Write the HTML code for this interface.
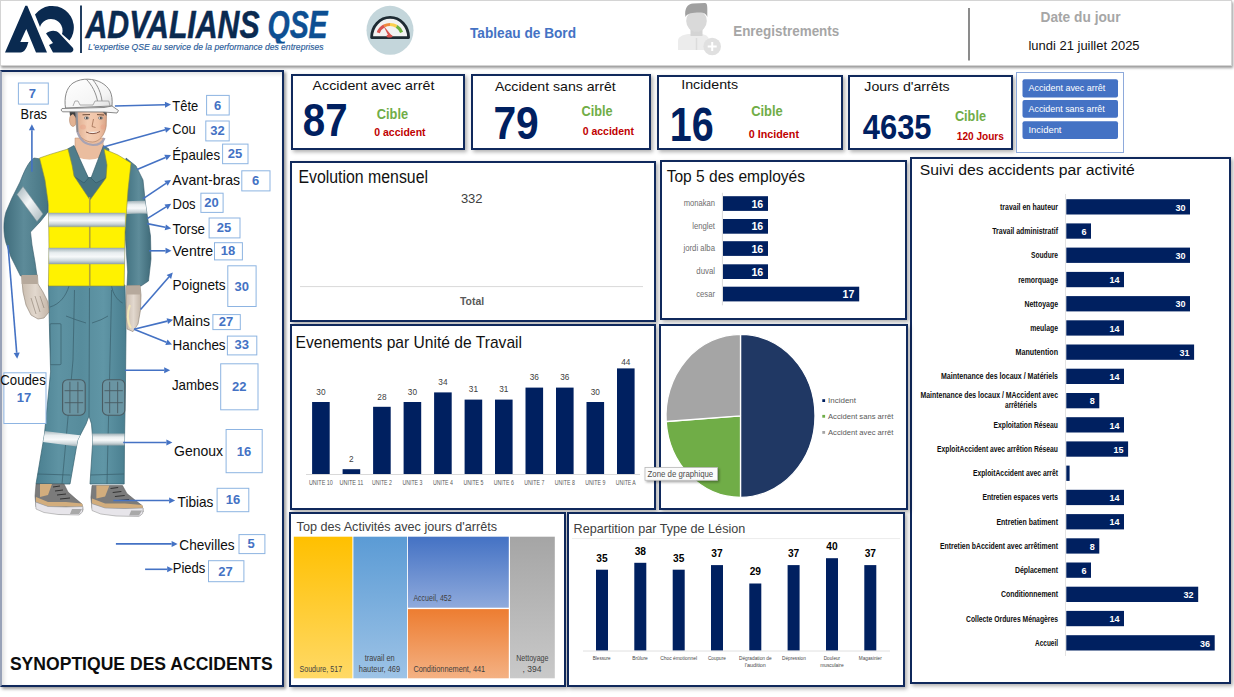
<!DOCTYPE html>
<html lang="fr"><head><meta charset="utf-8"><title>Tableau de Bord - Synoptique des accidents</title>
<style>
html,body{margin:0;padding:0;background:#fff;}
body{width:1234px;height:697px;overflow:hidden;position:relative;font-family:"Liberation Sans", sans-serif;}
#header,.panel{position:absolute;background:#fff;box-sizing:content-box;}
svg.pg{position:absolute;overflow:visible;font-family:"Liberation Sans", sans-serif;}
</style></head><body>
<svg width="0" height="0" style="position:absolute"><defs>
<linearGradient id="gY" x1="0" y1="0" x2="0" y2="1"><stop offset="0" stop-color="#ffc000"/><stop offset="1" stop-color="#ffd966"/></linearGradient>
<linearGradient id="gB" x1="0" y1="0" x2="0" y2="1"><stop offset="0" stop-color="#5b9bd5"/><stop offset="1" stop-color="#9dc3e6"/></linearGradient>
<linearGradient id="gA" x1="0" y1="0" x2="0" y2="1"><stop offset="0" stop-color="#4472c4"/><stop offset="1" stop-color="#8faadc"/></linearGradient>
<linearGradient id="gO" x1="0" y1="0" x2="0" y2="1"><stop offset="0" stop-color="#ed7d31"/><stop offset="1" stop-color="#f4b183"/></linearGradient>
<linearGradient id="gG" x1="0" y1="0" x2="0" y2="1"><stop offset="0" stop-color="#a5a5a5"/><stop offset="1" stop-color="#c9c9c9"/></linearGradient>
<filter id="tts" x="-20%" y="-50%" width="150%" height="250%"><feDropShadow dx="1.5" dy="1.5" stdDeviation="1" flood-color="#000" flood-opacity=".35"/></filter>

<linearGradient id="gStripe" x1="0" y1="0" x2="0" y2="1"><stop offset="0" stop-color="#9fb0b6"/><stop offset=".3" stop-color="#e9eef0"/><stop offset=".55" stop-color="#f7f9fa"/><stop offset=".8" stop-color="#ccd6da"/><stop offset="1" stop-color="#93a4aa"/></linearGradient>
<linearGradient id="gStripeD" x1="0" y1="0" x2="1" y2="1"><stop offset="0" stop-color="#a4b4ba"/><stop offset=".45" stop-color="#f4f7f8"/><stop offset="1" stop-color="#a7b6bb"/></linearGradient>
<linearGradient id="gSleeveL" x1="0" y1="0" x2="1" y2="0"><stop offset="0" stop-color="#3f6c7b"/><stop offset=".45" stop-color="#5d8b99"/><stop offset="1" stop-color="#467482"/></linearGradient>
<linearGradient id="gSleeveR" x1="0" y1="0" x2="1" y2="0"><stop offset="0" stop-color="#40707f"/><stop offset=".55" stop-color="#5e8c9a"/><stop offset="1" stop-color="#3f6b79"/></linearGradient>
<linearGradient id="gPants" x1="0" y1="0" x2="1" y2="0"><stop offset="0" stop-color="#4a7f90"/><stop offset=".25" stop-color="#5e93a3"/><stop offset=".5" stop-color="#578c9c"/><stop offset=".75" stop-color="#6096a6"/><stop offset="1" stop-color="#497e8f"/></linearGradient>
<linearGradient id="gHelmet" x1="0" y1="0" x2="1" y2="1"><stop offset="0" stop-color="#ffffff"/><stop offset=".7" stop-color="#f4f4f4"/><stop offset="1" stop-color="#dcdcdc"/></linearGradient>
<linearGradient id="gSkin" x1="0" y1="0" x2="1" y2="0"><stop offset="0" stop-color="#dba88a"/><stop offset=".4" stop-color="#f4cdb3"/><stop offset=".75" stop-color="#f0c3a6"/><stop offset="1" stop-color="#d9a386"/></linearGradient>
<linearGradient id="gGlove" x1="0" y1="0" x2="1" y2="0"><stop offset="0" stop-color="#c9bcae"/><stop offset=".5" stop-color="#e2d8ce"/><stop offset="1" stop-color="#c4b6a8"/></linearGradient>
<clipPath id="cArmL"><path d="M34,158 C28,162 24,172 20,182 L12,198 L6,212 C3,222 3.5,234 6,243 L11,257 L20.5,276 L37,276 L35,262 L32,245 L30.5,232 L40,222 L48,212 L48,160 Z"/></clipPath>
<clipPath id="cArmR"><path d="M126,158 L136,166 L143,180 L145.5,204 L150.5,236 L151,259 L148.5,281 L141,286 L127,286 L127.7,272 L125,232 L124,190 Z"/></clipPath>
<clipPath id="cPants"><path d="M48.5,285 L125,285 L126,330 L125.5,380 L124.5,440 L124.2,484 L90,484 L92.8,440 L91.5,424 L89,416 L86,424 L77.7,440 L70,484 L36,484 L44.4,434.5 L50.6,372 L49.5,330 Z"/></clipPath>

</defs></svg>
<div id="header" style="left:0;top:0;width:1230px;height:64px;border:1px solid #d4d4d4;box-shadow:0.5px 1.5px 2.5px rgba(0,0,0,.4);"><svg class="pg" style="left:-1px;top:-1px" width="1234" height="697" viewBox="0 0 1234 697"><path d="M5,52.5 L25.3,5.7 L27.3,5.7 L47,52.5 L36,52.5 L26.3,29 L20.3,42.1 L28.4,42.1 C27,47 25,52.5 20.3,52.5 Z" fill="#0a2a50"/><path d="M35,14.5 A20,20 0 1 1 69.5,40.5 L62,34 A10,10 0 1 0 40,27 Z" fill="#0a2a50"/><path d="M46,33.5 C50,30 56,30 59,33 L73,48 C74,50 73,52 71,52.5 L53,52.5 L49,45 L53,43 Z" fill="#0a2a50"/><line x1="81.0" y1="5.5" x2="81.0" y2="53.0" stroke="#0a2a50" stroke-width="1.8" /><text x="85.5" y="37.9" font-size="38" fill="#0a2a50" font-weight="bold" font-style="italic" textLength="174.1" lengthAdjust="spacingAndGlyphs" stroke="#0a2a50" stroke-width=".5">ADVALIANS</text><clipPath id="cQse"><rect x="260" y="0" width="80" height="43.5"/></clipPath><g clip-path="url(#cQse)"><text x="267.5" y="37.9" font-size="38" fill="#0d4f92" font-weight="bold" font-style="italic" textLength="60.1" lengthAdjust="spacingAndGlyphs" stroke="#0d4f92" stroke-width=".5">QSE</text></g><text x="88.0" y="50.4" font-size="8.9" fill="#285a98" font-style="italic" textLength="235.5" lengthAdjust="spacingAndGlyphs" stroke="#285a98" stroke-width=".15">L'expertise QSE au service de la performance des entreprises</text><ellipse cx="390" cy="30.3" rx="23.5" ry="24.5" fill="#c4d6db"/><path d="M371.6,37.6 A18.5,20.2 0 0 1 408.6,37.6 Z" fill="#f2f2f2" stroke="#1e2b33" stroke-width="2.8" stroke-linejoin="round"/><path d="M378.25,32.72 A12.5,12.5 0 0 1 384.13,25.96" fill="none" stroke="#d9534f" stroke-width="3.2"/><path d="M384.13,25.96 A12.5,12.5 0 0 1 390.00,24.50" fill="none" stroke="#ef8a3c" stroke-width="3.2"/><path d="M390.00,24.50 A12.5,12.5 0 0 1 396.62,26.40" fill="none" stroke="#fbcf4d" stroke-width="3.2"/><path d="M396.62,26.40 A12.5,12.5 0 0 1 401.59,32.32" fill="none" stroke="#6db33f" stroke-width="3.2"/><path d="M383,25 L391.5,35.5 L389,37 Z" fill="#d9534f"/><ellipse cx="389.5" cy="36" rx="3" ry="1.6" fill="#d9534f"/><text x="470.0" y="38.0" font-size="15.2" fill="#4472c4" font-weight="bold" textLength="106.0" lengthAdjust="spacingAndGlyphs" >Tableau de Bord</text><path d="M678,50 L678,41 C678,37 682,35 688,34 L702,34 C707,35 709,37 709,41 L709,50 Z" fill="#ececec"/><rect x="690.5" y="29" width="12" height="7" fill="#d4d4d4"/><ellipse cx="696.5" cy="21" rx="10.3" ry="10.8" fill="#d9d9d9"/><path d="M685.5,17 C684,8 688,4 693,3.5 L705,3 C707.5,3 707.5,6 707.3,17 C706,13 703,12 697,12.5 C690,13 687,14 685.5,17 Z" fill="#a0a0a0"/><line x1="696.5" y1="38" x2="696.5" y2="50" stroke="#dcdcdc" stroke-width="1.5"/><circle cx="712.2" cy="46.5" r="8.8" fill="#e0e0e0"/><path d="M712.2,42 V51 M707.7,46.5 H716.7" stroke="#fff" stroke-width="2"/><text x="733.2" y="35.5" font-size="14.7" fill="#a6a6a6" font-weight="bold" textLength="106.1" lengthAdjust="spacingAndGlyphs" >Enregistrements</text><line x1="969.0" y1="8.0" x2="969.0" y2="60.5" stroke="#7f7f7f" stroke-width="1.8" /><text x="1040.5" y="22.1" font-size="14.7" fill="#a6a6a6" font-weight="bold" textLength="80.1" lengthAdjust="spacingAndGlyphs" >Date du jour</text><text x="1028.4" y="50.0" font-size="12.5" fill="#111" textLength="111.2" lengthAdjust="spacingAndGlyphs" >lundi 21 juillet 2025</text></svg></div>
<div class="panel" id="synoptique" style="left:0px;top:70px;width:280px;height:613px;border:2px solid #10295c;box-shadow:2px 2px 3px rgba(0,0,0,.4), inset 2px 2px 4px rgba(0,0,0,.13);border-left-color:#98a2b8;"><svg class="pg" style="left:-2px;top:-72px" width="1234" height="697" viewBox="0 0 1234 697"><path d="M126,158 L136,166 L143,180 L145.5,204 L150.5,236 L151,259 L148.5,281 L141,286 L127,286 L127.7,272 L125,232 L124,190 Z" fill="url(#gSleeveR)" stroke="#34596a" stroke-width=".6"/><g clip-path="url(#cArmR)"><path d="M120,202 Q135,200 155,201 L155,214 Q135,213 120,214.5 Z" fill="url(#gStripe)"/></g><path d="M34,158 C28,162 24,172 20,182 L12,198 L6,212 C3,222 3.5,234 6,243 L11,257 L20.5,276 L37,276 L35,262 L32,245 L30.5,232 L40,222 L48,212 L48,160 Z" fill="url(#gSleeveL)" stroke="#34596a" stroke-width=".6"/><g clip-path="url(#cArmL)"><path d="M17,194.5 L23,186.5 L43,214 L37,221.5 Z" fill="url(#gStripeD)" stroke="#7d9096" stroke-width=".5"/></g><path d="M48.5,285 L125,285 L126,330 L125.5,380 L124.5,440 L124.2,484 L90,484 L92.8,440 L91.5,424 L89,416 L86,424 L77.7,440 L70,484 L36,484 L44.4,434.5 L50.6,372 L49.5,330 Z" fill="url(#gPants)" stroke="#33606f" stroke-width=".7"/><g clip-path="url(#cPants)" fill="none" stroke="#3a5f6b" stroke-width=".7"><path d="M74.5,290 L73,360 L66,440 L62,484"/><path d="M89.5,288 L89,416"/><path d="M111.6,290 L110,360 L108,440 L107,484"/><path d="M69,286 C66,296 60,304 50,307"/><path d="M111.6,286 C113,294 117,300 122.6,303"/><rect x="50" y="323.7" width="11" height="41" rx="1"/><path d="M66,316 Q76,320 86,323 M92,323 Q102,320 108,316"/><path d="M37,474 L70.5,475 M90,475 L124,474"/></g><rect x="62.6" y="379.7" width="22.6" height="35.5" rx="5" fill="#6a95a3" stroke="#4a5b62" stroke-width="1.1"/><path d="M64.6,390.7 H83.2 M64.6,402.7 H83.2 M69.9,381.7 V413.2 M77.9,381.7 V413.2" stroke="#4a5b62" stroke-width=".9"/><rect x="102.5" y="379.7" width="22.3" height="35.5" rx="5" fill="#6a95a3" stroke="#4a5b62" stroke-width="1.1"/><path d="M104.5,390.7 H122.8 M104.5,402.7 H122.8 M109.65,381.7 V413.2 M117.65,381.7 V413.2" stroke="#4a5b62" stroke-width=".9"/><g clip-path="url(#cPants)"><path d="M40,430.5 L82,435.5 L81,447 L39,441.5 Z" fill="url(#gStripe)"/><path d="M88,433.5 L127,433.5 L127,445.5 L88,445.5 Z" fill="url(#gStripe)"/></g><path d="M36.0,484.0 L64.0,484.0 L68.0,492.0 L76.0,499.0 L82.0,504.0 L83.0,510.0 L80.0,514.0 L60.0,514.0 L44.0,511.0 L36.0,507.0 L35.0,496.0 Z" fill="#7b7b7b" stroke="#555" stroke-width=".5"/><path d="M40.0,484.0 L52.0,484.0 L48.0,495.0 L40.0,497.0 Z" fill="#d2ad7d"/><path d="M36.0,497.0 L48.0,502.0 L66.0,502.0 L82.0,503.5 L83.0,507.0 L66.0,506.5 L48.0,506.5 L36.0,502.0 Z" fill="#d2ad7d"/><path d="M53.0,487.0 L60.0,486.0 M55.0,491.0 L63.0,490.0 M57.0,495.0 L66.0,494.0 M60.0,499.0 L70.0,498.0" stroke="#333" stroke-width="1"/><path d="M35.5,502.0 L48.0,506.5 L66.0,507.0 L83.0,506.5 L82.5,512.0 L79.0,515.0 L58.0,514.5 L44.0,512.5 L36.0,509.0 Z" fill="#e7e5ea" stroke="#9a9a9a" stroke-width=".6"/><path d="M72.0,509.0 L82.0,509.0 L79.0,514.0 L70.0,514.0 Z" fill="#a9a9a9"/><path d="M92.0,485.5 L122.5,485.5 L126.9,493.5 L135.6,500.5 L142.1,505.5 L143.2,511.5 L140.0,515.5 L118.2,515.5 L100.7,512.5 L92.0,508.5 L90.9,497.5 Z" fill="#7b7b7b" stroke="#555" stroke-width=".5"/><path d="M96.4,485.5 L109.4,485.5 L105.1,496.5 L96.4,498.5 Z" fill="#d2ad7d"/><path d="M92.0,498.5 L105.1,503.5 L124.7,503.5 L142.1,505.0 L143.2,508.5 L124.7,508.0 L105.1,508.0 L92.0,503.5 Z" fill="#d2ad7d"/><path d="M110.5,488.5 L118.2,487.5 M112.7,492.5 L121.4,491.5 M114.9,496.5 L124.7,495.5 M118.2,500.5 L129.1,499.5" stroke="#333" stroke-width="1"/><path d="M91.5,503.5 L105.1,508.0 L124.7,508.5 L143.2,508.0 L142.7,513.5 L138.9,516.5 L116.0,516.0 L100.7,514.0 L92.0,510.5 Z" fill="#e7e5ea" stroke="#9a9a9a" stroke-width=".6"/><path d="M131.2,510.5 L142.1,510.5 L138.9,515.5 L129.1,515.5 Z" fill="#a9a9a9"/><path d="M70,156 L108,156 L107,178 L90,202 L73,176 Z" fill="#46727f"/><path d="M75,138 L103,138 L103.5,160 L75,160 Z" fill="#eabd9f" stroke="#b88a6e" stroke-width=".5"/><path d="M77,157 Q90,162 101,157 L92,177 L88,177 Z" fill="#ffffff"/><path d="M67.5,149 L74,145.5 L79,157 L88.5,178 L84,183 L73.5,176 Z" fill="#4f7d8b" stroke="#2f5563" stroke-width=".6"/><path d="M109,149 L103.5,145.5 L99,157 L91,178 L96,183 L106,178 Z" fill="#4f7d8b" stroke="#2f5563" stroke-width=".6"/><path d="M39.5,158 L50,154.4 L68,149 L72,165 L74,176 L90,200 L90,286 L48.4,286 L49,250 L48.5,205 L45,180 Z" fill="#fff200" stroke="#8d8d3c" stroke-width=".6"/><path d="M104,149 L118,155 L131,163 L128,190 L125,232 L124.2,286 L90,286 L90,200 L106,178 L107,165 Z" fill="#fff200" stroke="#8d8d3c" stroke-width=".6"/><line x1="89.6" y1="197" x2="89.6" y2="286" stroke="#b5a53a" stroke-width="1.3"/><path d="M48.5,213 L125.3,213 L125.2,226.8 L48.6,226.8 Z" fill="url(#gStripe)" stroke="#8e9da2" stroke-width=".4"/><path d="M48.8,248 L124.7,248 L124.5,264 L48.9,264 Z" fill="url(#gStripe)" stroke="#8e9da2" stroke-width=".4"/><path d="M21.6,276 L37.4,275 L38,284 L43,292 L48,302 L49,312 L44,318 L38,319 L31,315 L26,305 L23,292 Z" fill="url(#gGlove)" stroke="#8a7d71" stroke-width=".6"/><rect x="21.6" y="275" width="16" height="9" fill="#b6a99c"/><path d="M31,298 L36,314 M35,296 L40,312 M40,296 L44,308" stroke="#8a7d71" stroke-width=".6"/><path d="M126.4,286 L140,285.5 L141,295 L140.5,310 L138,324 L133,331.6 L127,329 L126,312 Z" fill="url(#gGlove)" stroke="#8a7d71" stroke-width=".6"/><rect x="126.4" y="285.5" width="13.8" height="9" fill="#b6a99c"/><path d="M130,305 C127,312 127,322 131,328" fill="none" stroke="#f3e6b8" stroke-width="2"/><ellipse cx="73" cy="120" rx="3.5" ry="6.5" fill="#e2b293" stroke="#a97a5c" stroke-width=".5"/><path d="M75,111 L106.6,111 L106.2,126 C105,135 99,142 92.6,142 C85,142 78.5,137 76.5,128 Z" fill="url(#gSkin)" stroke="#a97a5c" stroke-width=".6"/><path d="M69.5,111 L76.5,111 L76,118 L73,114 L70,116 Z" fill="#3f3f3f"/><path d="M102,111 L106.6,111 L106.4,116 Z" fill="#555"/><path d="M82.5,114.8 L90,114.6 M97,114.6 L104,115" stroke="#6b4a36" stroke-width="1"/><ellipse cx="86.6" cy="118" rx="2.4" ry="1.3" fill="#e8e8e8" stroke="#555" stroke-width=".5"/><circle cx="86.9" cy="118" r="1" fill="#333"/><ellipse cx="100.6" cy="118" rx="2.3" ry="1.3" fill="#e8e8e8" stroke="#555" stroke-width=".5"/><circle cx="100.9" cy="118" r="1" fill="#333"/><path d="M93.5,119 L92,126.5 L95.5,127.5" fill="none" stroke="#a06d52" stroke-width=".8"/><path d="M86,132 Q93,135.5 100,131.5" fill="#f7f0ec" stroke="#7a4634" stroke-width=".9"/><ellipse cx="83" cy="127" rx="3" ry="2.5" fill="#e89f86" opacity=".45"/><ellipse cx="103" cy="127" rx="2.5" ry="2.5" fill="#e89f86" opacity=".45"/><path d="M76.5,111 L77.5,132 C80,140 86,144.5 93,145 C99,145 103,142 104.5,138" fill="none" stroke="#a8a3b3" stroke-width="2.2"/><path d="M76.5,111 L77.5,132" stroke="#8b8b8b" stroke-width="1.4"/><path d="M65.5,108 C64,98 66,88 73,83 C78,80 83,79 88,79.2 C98,79.5 106,84 110,91 C112,95 112.5,100 112,106 Z" fill="url(#gHelmet)" stroke="#7d7d7d" stroke-width=".9"/><path d="M86.5,79.5 C92,85 96,93 97.5,101 M93,80 C98,86 101,93 102,101" fill="none" stroke="#8f8f8f" stroke-width="1"/><path d="M73,106 L75,101 L78,101 L80,105 L93,105 L95,101 L108.8,101 L110,106" fill="none" stroke="#9a9a9a" stroke-width=".8"/><path d="M62,108.5 L104,107.5 L112,106 L118.5,110.5 L117,113 L104,112 L62.5,111.8 L61,110 Z" fill="#f6f6f6" stroke="#7d7d7d" stroke-width=".9"/><line x1="31.9" y1="171.8" x2="31.9" y2="130.3" stroke="#4472c4" stroke-width="1.6" /><path d="M31.9,124.3 L34.9,130.3 L28.9,130.3 Z" fill="#4472c4"/><line x1="8.0" y1="245.0" x2="16.7" y2="352.7" stroke="#4472c4" stroke-width="1.6" /><path d="M17.2,358.7 L13.7,353.0 L19.7,352.5 Z" fill="#4472c4"/><line x1="114.9" y1="106.0" x2="165.0" y2="104.7" stroke="#4472c4" stroke-width="1.6" /><path d="M171.0,104.5 L165.1,107.7 L164.9,101.7 Z" fill="#4472c4"/><line x1="103.3" y1="146.9" x2="165.2" y2="129.8" stroke="#4472c4" stroke-width="1.6" /><path d="M171.0,128.2 L166.0,132.7 L164.4,126.9 Z" fill="#4472c4"/><line x1="137.1" y1="169.5" x2="165.5" y2="157.4" stroke="#4472c4" stroke-width="1.6" /><path d="M171.0,155.1 L166.7,160.2 L164.3,154.7 Z" fill="#4472c4"/><line x1="142.9" y1="198.9" x2="166.0" y2="183.3" stroke="#4472c4" stroke-width="1.6" /><path d="M171.0,179.9 L167.7,185.7 L164.3,180.8 Z" fill="#4472c4"/><line x1="147.2" y1="218.6" x2="166.1" y2="206.9" stroke="#4472c4" stroke-width="1.6" /><path d="M171.2,203.8 L167.7,209.5 L164.5,204.4 Z" fill="#4472c4"/><line x1="147.2" y1="223.6" x2="165.3" y2="227.3" stroke="#4472c4" stroke-width="1.6" /><path d="M171.2,228.5 L164.7,230.2 L165.9,224.4 Z" fill="#4472c4"/><line x1="149.0" y1="250.8" x2="165.5" y2="250.8" stroke="#4472c4" stroke-width="1.6" /><path d="M171.5,250.8 L165.5,253.8 L165.5,247.8 Z" fill="#4472c4"/><line x1="140.6" y1="309.5" x2="168.9" y2="276.9" stroke="#4472c4" stroke-width="1.6" /><path d="M172.8,272.4 L171.1,278.9 L166.6,275.0 Z" fill="#4472c4"/><line x1="134.0" y1="329.3" x2="167.3" y2="321.1" stroke="#4472c4" stroke-width="1.6" /><path d="M173.1,319.7 L168.0,324.0 L166.6,318.2 Z" fill="#4472c4"/><line x1="134.0" y1="329.3" x2="166.4" y2="342.3" stroke="#4472c4" stroke-width="1.6" /><path d="M172.0,344.5 L165.3,345.1 L167.5,339.5 Z" fill="#4472c4"/><line x1="124.9" y1="370.2" x2="164.2" y2="370.2" stroke="#4472c4" stroke-width="1.6" /><path d="M170.2,370.2 L164.2,373.2 L164.2,367.2 Z" fill="#4472c4"/><line x1="123.2" y1="442.5" x2="166.4" y2="442.5" stroke="#4472c4" stroke-width="1.6" /><path d="M172.4,442.5 L166.4,445.5 L166.4,439.5 Z" fill="#4472c4"/><line x1="113.4" y1="500.5" x2="169.1" y2="500.5" stroke="#4472c4" stroke-width="1.6" /><path d="M175.1,500.5 L169.1,503.5 L169.1,497.5 Z" fill="#4472c4"/><line x1="115.9" y1="543.9" x2="171.6" y2="543.9" stroke="#4472c4" stroke-width="1.6" /><path d="M177.6,543.9 L171.6,546.9 L171.6,540.9 Z" fill="#4472c4"/><line x1="145.1" y1="569.3" x2="167.2" y2="569.3" stroke="#4472c4" stroke-width="1.6" /><path d="M173.2,569.3 L167.2,572.3 L167.2,566.3 Z" fill="#4472c4"/><rect x="18.4" y="83.0" width="29.9" height="21.1" fill="#fff" stroke="#8db4e2" stroke-width="1"/><text x="32.3" y="98.3" font-size="13" fill="#4472c4" font-weight="bold" text-anchor="middle" >7</text><rect x="206.6" y="95.4" width="22.6" height="19.6" fill="#fff" stroke="#8db4e2" stroke-width="1"/><text x="217.5" y="109.8" font-size="13" fill="#4472c4" font-weight="bold" text-anchor="middle" >6</text><rect x="205.8" y="121.0" width="23.4" height="19.9" fill="#fff" stroke="#8db4e2" stroke-width="1"/><text x="217.5" y="135.3" font-size="13" fill="#4472c4" font-weight="bold" text-anchor="middle" >32</text><rect x="222.6" y="144.1" width="25.4" height="19.6" fill="#fff" stroke="#8db4e2" stroke-width="1"/><text x="235.0" y="158.4" font-size="13" fill="#4472c4" font-weight="bold" text-anchor="middle" >25</text><rect x="241.8" y="170.8" width="28.2" height="20.1" fill="#fff" stroke="#8db4e2" stroke-width="1"/><text x="255.6" y="184.5" font-size="13" fill="#4472c4" font-weight="bold" text-anchor="middle" >6</text><rect x="200.9" y="193.2" width="22.2" height="19.2" fill="#fff" stroke="#8db4e2" stroke-width="1"/><text x="211.6" y="207.1" font-size="13" fill="#4472c4" font-weight="bold" text-anchor="middle" >20</text><rect x="209.1" y="218.0" width="30.9" height="19.9" fill="#fff" stroke="#8db4e2" stroke-width="1"/><text x="224.0" y="232.3" font-size="13" fill="#4472c4" font-weight="bold" text-anchor="middle" >25</text><rect x="214.5" y="242.7" width="27.9" height="17.2" fill="#fff" stroke="#8db4e2" stroke-width="1"/><text x="228.1" y="255.4" font-size="13" fill="#4472c4" font-weight="bold" text-anchor="middle" >18</text><rect x="227.8" y="265.8" width="28.3" height="40.7" fill="#fff" stroke="#8db4e2" stroke-width="1"/><text x="241.8" y="290.5" font-size="13" fill="#4472c4" font-weight="bold" text-anchor="middle" >30</text><rect x="212.9" y="314.6" width="27.4" height="15.0" fill="#fff" stroke="#8db4e2" stroke-width="1"/><text x="225.9" y="326.0" font-size="13" fill="#4472c4" font-weight="bold" text-anchor="middle" >27</text><rect x="227.4" y="336.1" width="29.4" height="18.8" fill="#fff" stroke="#8db4e2" stroke-width="1"/><text x="241.8" y="349.4" font-size="13" fill="#4472c4" font-weight="bold" text-anchor="middle" >33</text><rect x="220.7" y="363.8" width="37.3" height="46.0" fill="#fff" stroke="#8db4e2" stroke-width="1"/><text x="239.2" y="391.3" font-size="13" fill="#4472c4" font-weight="bold" text-anchor="middle" >22</text><rect x="226.1" y="429.5" width="36.1" height="43.2" fill="#fff" stroke="#8db4e2" stroke-width="1"/><text x="244.0" y="455.7" font-size="13" fill="#4472c4" font-weight="bold" text-anchor="middle" >16</text><rect x="217.1" y="488.3" width="31.7" height="23.4" fill="#fff" stroke="#8db4e2" stroke-width="1"/><text x="232.9" y="504.1" font-size="13" fill="#4472c4" font-weight="bold" text-anchor="middle" >16</text><rect x="239.0" y="534.6" width="25.9" height="19.0" fill="#fff" stroke="#8db4e2" stroke-width="1"/><text x="251.2" y="548.0" font-size="13" fill="#4472c4" font-weight="bold" text-anchor="middle" >5</text><rect x="208.5" y="560.7" width="35.4" height="21.0" fill="#fff" stroke="#8db4e2" stroke-width="1"/><text x="225.6" y="575.6" font-size="13" fill="#4472c4" font-weight="bold" text-anchor="middle" >27</text><rect x="3.9" y="372.8" width="42.1" height="50.7" fill="#fff" stroke="#8db4e2" stroke-width="1"/><text x="24.0" y="402.0" font-size="13" fill="#4472c4" font-weight="bold" text-anchor="middle" >17</text><text x="20.6" y="119.0" font-size="14.4" fill="#0d0d0d" textLength="26.4" lengthAdjust="spacingAndGlyphs" >Bras</text><text x="172.3" y="110.6" font-size="14.4" fill="#0d0d0d" textLength="25.9" lengthAdjust="spacingAndGlyphs" >Tête</text><text x="172.3" y="134.0" font-size="14.4" fill="#0d0d0d" textLength="23.4" lengthAdjust="spacingAndGlyphs" >Cou</text><text x="172.3" y="160.1" font-size="14.4" fill="#0d0d0d" textLength="47.8" lengthAdjust="spacingAndGlyphs" >Épaules</text><text x="172.3" y="184.8" font-size="14.4" fill="#0d0d0d" textLength="67.7" lengthAdjust="spacingAndGlyphs" >Avant-bras</text><text x="172.5" y="208.7" font-size="14.4" fill="#0d0d0d" textLength="23.1" lengthAdjust="spacingAndGlyphs" >Dos</text><text x="172.5" y="233.5" font-size="14.4" fill="#0d0d0d" textLength="32.5" lengthAdjust="spacingAndGlyphs" >Torse</text><text x="172.5" y="256.1" font-size="14.4" fill="#0d0d0d" textLength="40.7" lengthAdjust="spacingAndGlyphs" >Ventre</text><text x="172.5" y="290.0" font-size="14.4" fill="#0d0d0d" textLength="53.1" lengthAdjust="spacingAndGlyphs" >Poignets</text><text x="172.5" y="325.7" font-size="14.4" fill="#0d0d0d" textLength="37.5" lengthAdjust="spacingAndGlyphs" >Mains</text><text x="172.5" y="350.0" font-size="14.4" fill="#0d0d0d" textLength="53.1" lengthAdjust="spacingAndGlyphs" >Hanches</text><text x="171.9" y="390.0" font-size="14.4" fill="#0d0d0d" textLength="46.7" lengthAdjust="spacingAndGlyphs" >Jambes</text><text x="174.0" y="455.7" font-size="14.4" fill="#0d0d0d" textLength="49.0" lengthAdjust="spacingAndGlyphs" >Genoux</text><text x="177.6" y="506.6" font-size="14.4" fill="#0d0d0d" textLength="35.8" lengthAdjust="spacingAndGlyphs" >Tibias</text><text x="179.3" y="549.8" font-size="14.4" fill="#0d0d0d" textLength="55.3" lengthAdjust="spacingAndGlyphs" >Chevilles</text><text x="172.7" y="573.2" font-size="14.4" fill="#0d0d0d" textLength="32.7" lengthAdjust="spacingAndGlyphs" >Pieds</text><text x="0.3" y="385.0" font-size="14.4" fill="#0d0d0d" textLength="45.5" lengthAdjust="spacingAndGlyphs" >Coudes</text><text x="9.9" y="669.6" font-size="18.5" fill="#0d0d0d" font-weight="bold" textLength="262.9" lengthAdjust="spacingAndGlyphs" >SYNOPTIQUE DES ACCIDENTS</text></svg></div>
<div class="panel" id="kpi1" style="left:291px;top:74px;width:170px;height:72px;border:2px solid #10295c;box-shadow:2px 2px 4px rgba(0,0,0,.32);"><svg class="pg" style="left:-293px;top:-76px" width="1234" height="697" viewBox="0 0 1234 697"><text x="312.6" y="90.2" font-size="13.3" fill="#111" textLength="121.8" lengthAdjust="spacingAndGlyphs" >Accident avec arrêt</text><text x="302.8" y="136.2" font-size="47" fill="#002060" font-weight="bold" textLength="44.8" lengthAdjust="spacingAndGlyphs" >87</text><text x="376.8" y="118.7" font-size="14.2" fill="#70ad47" font-weight="bold" textLength="31.3" lengthAdjust="spacingAndGlyphs" >Cible</text><text x="374.3" y="136.2" font-size="10.2" fill="#c00000" font-weight="bold" textLength="51.3" lengthAdjust="spacingAndGlyphs" >0 accident</text></svg></div><div class="panel" id="kpi2" style="left:471px;top:74px;width:176px;height:72px;border:2px solid #10295c;box-shadow:2px 2px 4px rgba(0,0,0,.32);"><svg class="pg" style="left:-473px;top:-76px" width="1234" height="697" viewBox="0 0 1234 697"><text x="494.9" y="90.5" font-size="13.3" fill="#111" textLength="120.9" lengthAdjust="spacingAndGlyphs" >Accident sans arrêt</text><text x="493.4" y="139.0" font-size="47" fill="#002060" font-weight="bold" textLength="45.4" lengthAdjust="spacingAndGlyphs" >79</text><text x="581.6" y="115.6" font-size="14.2" fill="#70ad47" font-weight="bold" textLength="31.1" lengthAdjust="spacingAndGlyphs" >Cible</text><text x="582.7" y="134.8" font-size="10.2" fill="#c00000" font-weight="bold" textLength="51.3" lengthAdjust="spacingAndGlyphs" >0 accident</text></svg></div><div class="panel" id="kpi3" style="left:657px;top:75px;width:182px;height:71px;border:2px solid #10295c;box-shadow:2px 2px 4px rgba(0,0,0,.32);"><svg class="pg" style="left:-659px;top:-77px" width="1234" height="697" viewBox="0 0 1234 697"><text x="681.2" y="89.0" font-size="13.3" fill="#111" textLength="57.0" lengthAdjust="spacingAndGlyphs" >Incidents</text><text x="669.8" y="141.1" font-size="47.5" fill="#002060" font-weight="bold" textLength="43.9" lengthAdjust="spacingAndGlyphs" >16</text><text x="751.2" y="115.5" font-size="14.2" fill="#70ad47" font-weight="bold" textLength="31.6" lengthAdjust="spacingAndGlyphs" >Cible</text><text x="748.8" y="138.0" font-size="10.2" fill="#c00000" font-weight="bold" textLength="50.2" lengthAdjust="spacingAndGlyphs" >0 Incident</text></svg></div><div class="panel" id="kpi4" style="left:848px;top:75px;width:161px;height:71px;border:2px solid #10295c;box-shadow:2px 2px 4px rgba(0,0,0,.32);"><svg class="pg" style="left:-850px;top:-77px" width="1234" height="697" viewBox="0 0 1234 697"><text x="864.3" y="91.3" font-size="13.3" fill="#111" textLength="85.4" lengthAdjust="spacingAndGlyphs" >Jours d'arrêts</text><text x="862.8" y="138.7" font-size="34.2" fill="#002060" font-weight="bold" textLength="68.7" lengthAdjust="spacingAndGlyphs" >4635</text><text x="954.9" y="121.4" font-size="14.2" fill="#70ad47" font-weight="bold" textLength="31.1" lengthAdjust="spacingAndGlyphs" >Cible</text><text x="956.8" y="139.5" font-size="10.2" fill="#c00000" font-weight="bold" textLength="47.1" lengthAdjust="spacingAndGlyphs" >120 Jours</text></svg></div>
<div class="panel" id="slicer" style="left:1016px;top:72px;width:106px;height:79px;border:1px solid #8eaadb;box-shadow:none;"><svg class="pg" style="left:-1017px;top:-73px" width="1234" height="697" viewBox="0 0 1234 697"><rect x="1022.5" y="79.2" width="95.5" height="18.2" rx="2" fill="#4472c4"/><text x="1028.5" y="91.4" font-size="8.7" fill="#fff" textLength="76.8" lengthAdjust="spacingAndGlyphs" >Accident avec arrêt</text><rect x="1022.5" y="100" width="95.5" height="17.7" rx="2" fill="#4472c4"/><text x="1028.5" y="111.9" font-size="8.7" fill="#fff" textLength="76.3" lengthAdjust="spacingAndGlyphs" >Accident sans arrêt</text><rect x="1022.5" y="121.2" width="95.5" height="17.7" rx="2" fill="#4472c4"/><text x="1028.5" y="133.2" font-size="8.7" fill="#fff" textLength="33.0" lengthAdjust="spacingAndGlyphs" >Incident</text></svg></div>
<div class="panel" id="evolution" style="left:290px;top:161px;width:362px;height:157px;border:2px solid #10295c;box-shadow:2px 2px 4px rgba(0,0,0,.32);"><svg class="pg" style="left:-292px;top:-163px" width="1234" height="697" viewBox="0 0 1234 697"><text x="298.4" y="183.4" font-size="17.6" fill="#111" textLength="129.6" lengthAdjust="spacingAndGlyphs" >Evolution mensuel</text><text x="460.9" y="203.0" font-size="13.4" fill="#404040" textLength="21.7" lengthAdjust="spacingAndGlyphs" >332</text><line x1="300.0" y1="286.6" x2="643.0" y2="286.6" stroke="#d9d9d9" stroke-width="1" /><text x="460.0" y="305.3" font-size="11.2" fill="#595959" font-weight="bold" textLength="24.1" lengthAdjust="spacingAndGlyphs" >Total</text></svg></div>
<div class="panel" id="top5" style="left:660px;top:160px;width:243px;height:156px;border:2px solid #10295c;box-shadow:2px 2px 4px rgba(0,0,0,.32);"><svg class="pg" style="left:-662px;top:-162px" width="1234" height="697" viewBox="0 0 1234 697"><text x="666.7" y="181.8" font-size="16.2" fill="#111" textLength="138.3" lengthAdjust="spacingAndGlyphs" >Top 5 des employés</text><line x1="722.4" y1="192.8" x2="722.4" y2="305.3" stroke="#d9d9d9" stroke-width="1" /><rect x="723.0" y="196.2" width="45.0" height="14.7" fill="#002060" /><text x="683.7" y="206.2" font-size="9" fill="#6e6e6e" textLength="31.3" lengthAdjust="spacingAndGlyphs" >monakan</text><text x="763.2" y="207.6" font-size="10.6" fill="#fff" font-weight="bold" text-anchor="end" >16</text><rect x="723.0" y="219.0" width="45.0" height="14.7" fill="#002060" /><text x="692.2" y="229.0" font-size="9" fill="#6e6e6e" textLength="22.8" lengthAdjust="spacingAndGlyphs" >lenglet</text><text x="763.2" y="230.4" font-size="10.6" fill="#fff" font-weight="bold" text-anchor="end" >16</text><rect x="723.0" y="241.2" width="45.0" height="14.7" fill="#002060" /><text x="683.5" y="251.2" font-size="9" fill="#6e6e6e" textLength="31.5" lengthAdjust="spacingAndGlyphs" >jordi alba</text><text x="763.2" y="252.6" font-size="10.6" fill="#fff" font-weight="bold" text-anchor="end" >16</text><rect x="723.0" y="264.3" width="45.0" height="14.7" fill="#002060" /><text x="696.3" y="274.3" font-size="9" fill="#6e6e6e" textLength="18.7" lengthAdjust="spacingAndGlyphs" >duval</text><text x="763.2" y="275.7" font-size="10.6" fill="#fff" font-weight="bold" text-anchor="end" >16</text><rect x="723.0" y="286.7" width="136.2" height="14.7" fill="#002060" /><text x="696.3" y="296.7" font-size="9" fill="#6e6e6e" textLength="18.7" lengthAdjust="spacingAndGlyphs" >cesar</text><text x="854.4" y="298.1" font-size="10.6" fill="#fff" font-weight="bold" text-anchor="end" >17</text></svg></div>
<div class="panel" id="suivi" style="left:910px;top:157px;width:317px;height:523px;border:2px solid #10295c;box-shadow:2px 2px 4px rgba(0,0,0,.32);"><svg class="pg" style="left:-912px;top:-159px" width="1234" height="697" viewBox="0 0 1234 697"><text x="919.7" y="174.9" font-size="15.2" fill="#111" textLength="215.1" lengthAdjust="spacingAndGlyphs" >Suivi des accidents par activité</text><line x1="1065.5" y1="194.0" x2="1065.5" y2="656.0" stroke="#e3e3e3" stroke-width="1" /><rect x="1066.3" y="199.2" width="123.7" height="15.3" fill="#002060" /><text x="1000.0" y="209.8" font-size="8.6" fill="#0d0d0d" font-weight="bold" textLength="58.0" lengthAdjust="spacingAndGlyphs" >travail en hauteur</text><text x="1185.4" y="210.5" font-size="9" fill="#fff" font-weight="bold" text-anchor="end" >30</text><rect x="1066.3" y="223.4" width="24.7" height="15.3" fill="#002060" /><text x="992.2" y="234.0" font-size="8.6" fill="#0d0d0d" font-weight="bold" textLength="65.8" lengthAdjust="spacingAndGlyphs" >Travail administratif</text><text x="1086.4" y="234.7" font-size="9" fill="#fff" font-weight="bold" text-anchor="end" >6</text><rect x="1066.3" y="247.6" width="123.7" height="15.3" fill="#002060" /><text x="1031.0" y="258.2" font-size="8.6" fill="#0d0d0d" font-weight="bold" textLength="27.0" lengthAdjust="spacingAndGlyphs" >Soudure</text><text x="1185.4" y="258.9" font-size="9" fill="#fff" font-weight="bold" text-anchor="end" >30</text><rect x="1066.3" y="271.9" width="57.7" height="15.3" fill="#002060" /><text x="1018.2" y="282.5" font-size="8.6" fill="#0d0d0d" font-weight="bold" textLength="39.8" lengthAdjust="spacingAndGlyphs" >remorquage</text><text x="1119.4" y="283.2" font-size="9" fill="#fff" font-weight="bold" text-anchor="end" >14</text><rect x="1066.3" y="296.1" width="123.7" height="15.3" fill="#002060" /><text x="1024.4" y="306.7" font-size="8.6" fill="#0d0d0d" font-weight="bold" textLength="33.6" lengthAdjust="spacingAndGlyphs" >Nettoyage</text><text x="1185.4" y="307.4" font-size="9" fill="#fff" font-weight="bold" text-anchor="end" >30</text><rect x="1066.3" y="320.3" width="57.7" height="15.3" fill="#002060" /><text x="1030.2" y="330.9" font-size="8.6" fill="#0d0d0d" font-weight="bold" textLength="27.8" lengthAdjust="spacingAndGlyphs" >meulage</text><text x="1119.4" y="331.6" font-size="9" fill="#fff" font-weight="bold" text-anchor="end" >14</text><rect x="1066.3" y="344.5" width="127.8" height="15.3" fill="#002060" /><text x="1015.5" y="355.1" font-size="8.6" fill="#0d0d0d" font-weight="bold" textLength="42.5" lengthAdjust="spacingAndGlyphs" >Manutention</text><text x="1189.5" y="355.8" font-size="9" fill="#fff" font-weight="bold" text-anchor="end" >31</text><rect x="1066.3" y="368.7" width="57.7" height="15.3" fill="#002060" /><text x="941.0" y="379.3" font-size="8.6" fill="#0d0d0d" font-weight="bold" textLength="117.0" lengthAdjust="spacingAndGlyphs" >Maintenance des locaux / Matériels</text><text x="1119.4" y="380.0" font-size="9" fill="#fff" font-weight="bold" text-anchor="end" >14</text><rect x="1066.3" y="393.0" width="33.0" height="15.3" fill="#002060" /><text x="920.5" y="398.0" font-size="8.6" fill="#0d0d0d" font-weight="bold" textLength="137.5" lengthAdjust="spacingAndGlyphs" >Maintenance des locaux / MAccident avec</text><text x="1005.0" y="407.7" font-size="8.6" fill="#0d0d0d" font-weight="bold" textLength="31.8" lengthAdjust="spacingAndGlyphs" >arrêtériels</text><text x="1094.7" y="404.3" font-size="9" fill="#fff" font-weight="bold" text-anchor="end" >8</text><rect x="1066.3" y="417.2" width="57.7" height="15.3" fill="#002060" /><text x="993.5" y="427.8" font-size="8.6" fill="#0d0d0d" font-weight="bold" textLength="64.5" lengthAdjust="spacingAndGlyphs" >Exploitation Réseau</text><text x="1119.4" y="428.5" font-size="9" fill="#fff" font-weight="bold" text-anchor="end" >14</text><rect x="1066.3" y="441.4" width="61.8" height="15.3" fill="#002060" /><text x="937.1" y="452.0" font-size="8.6" fill="#0d0d0d" font-weight="bold" textLength="120.9" lengthAdjust="spacingAndGlyphs" >ExploitAccident avec arrêtion Réseau</text><text x="1123.5" y="452.7" font-size="9" fill="#fff" font-weight="bold" text-anchor="end" >15</text><rect x="1066.3" y="465.6" width="3.3" height="15.3" fill="#002060" /><text x="972.9" y="476.2" font-size="8.6" fill="#0d0d0d" font-weight="bold" textLength="85.1" lengthAdjust="spacingAndGlyphs" >ExploitAccident avec arrêt</text><rect x="1066.3" y="489.8" width="57.7" height="15.3" fill="#002060" /><text x="982.4" y="500.4" font-size="8.6" fill="#0d0d0d" font-weight="bold" textLength="75.6" lengthAdjust="spacingAndGlyphs" >Entretien espaces verts</text><text x="1119.4" y="501.1" font-size="9" fill="#fff" font-weight="bold" text-anchor="end" >14</text><rect x="1066.3" y="514.1" width="57.7" height="15.3" fill="#002060" /><text x="996.4" y="524.7" font-size="8.6" fill="#0d0d0d" font-weight="bold" textLength="61.6" lengthAdjust="spacingAndGlyphs" >Entretien batiment</text><text x="1119.4" y="525.4" font-size="9" fill="#fff" font-weight="bold" text-anchor="end" >14</text><rect x="1066.3" y="538.3" width="33.0" height="15.3" fill="#002060" /><text x="940.0" y="548.9" font-size="8.6" fill="#0d0d0d" font-weight="bold" textLength="118.0" lengthAdjust="spacingAndGlyphs" >Entretien bAccident avec arrêtiment</text><text x="1094.7" y="549.6" font-size="9" fill="#fff" font-weight="bold" text-anchor="end" >8</text><rect x="1066.3" y="562.5" width="24.7" height="15.3" fill="#002060" /><text x="1014.9" y="573.1" font-size="8.6" fill="#0d0d0d" font-weight="bold" textLength="43.1" lengthAdjust="spacingAndGlyphs" >Déplacement</text><text x="1086.4" y="573.8" font-size="9" fill="#fff" font-weight="bold" text-anchor="end" >6</text><rect x="1066.3" y="586.7" width="131.9" height="15.3" fill="#002060" /><text x="1000.9" y="597.3" font-size="8.6" fill="#0d0d0d" font-weight="bold" textLength="57.1" lengthAdjust="spacingAndGlyphs" >Conditionnement</text><text x="1193.6" y="598.0" font-size="9" fill="#fff" font-weight="bold" text-anchor="end" >32</text><rect x="1066.3" y="610.9" width="57.7" height="15.3" fill="#002060" /><text x="966.0" y="621.5" font-size="8.6" fill="#0d0d0d" font-weight="bold" textLength="92.0" lengthAdjust="spacingAndGlyphs" >Collecte Ordures Ménagères</text><text x="1119.4" y="622.2" font-size="9" fill="#fff" font-weight="bold" text-anchor="end" >14</text><rect x="1066.3" y="635.2" width="148.4" height="15.3" fill="#002060" /><text x="1035.1" y="645.8" font-size="8.6" fill="#0d0d0d" font-weight="bold" textLength="22.9" lengthAdjust="spacingAndGlyphs" >Accueil</text><text x="1210.1" y="646.5" font-size="9" fill="#fff" font-weight="bold" text-anchor="end" >36</text></svg></div>
<div class="panel" id="evenements" style="left:290px;top:324px;width:362px;height:182px;border:2px solid #10295c;box-shadow:2px 2px 4px rgba(0,0,0,.32);"><svg class="pg" style="left:-292px;top:-326px" width="1234" height="697" viewBox="0 0 1234 697"><text x="295.6" y="347.7" font-size="16.6" fill="#111" textLength="226.4" lengthAdjust="spacingAndGlyphs" >Evenements par Unité de Travail</text><line x1="306.0" y1="474.5" x2="640.0" y2="474.5" stroke="#d9d9d9" stroke-width="1" /><rect x="312.1" y="402.0" width="17.6" height="72.0" fill="#002060" /><text x="316.3" y="394.8" font-size="9.6" fill="#404040" textLength="9.2" lengthAdjust="spacingAndGlyphs" >30</text><text x="308.9" y="484.7" font-size="6.6" fill="#595959" textLength="24.0" lengthAdjust="spacingAndGlyphs" >UNITE 10</text><rect x="342.6" y="469.2" width="17.6" height="4.8" fill="#002060" /><text x="349.1" y="462.0" font-size="9.6" fill="#404040" textLength="4.6" lengthAdjust="spacingAndGlyphs" >2</text><text x="339.4" y="484.7" font-size="6.6" fill="#595959" textLength="24.0" lengthAdjust="spacingAndGlyphs" >UNITE 11</text><rect x="373.1" y="406.8" width="17.6" height="67.2" fill="#002060" /><text x="377.3" y="399.6" font-size="9.6" fill="#404040" textLength="9.2" lengthAdjust="spacingAndGlyphs" >28</text><text x="371.9" y="484.7" font-size="6.6" fill="#595959" textLength="20.0" lengthAdjust="spacingAndGlyphs" >UNITE 2</text><rect x="403.6" y="402.0" width="17.6" height="72.0" fill="#002060" /><text x="407.8" y="394.8" font-size="9.6" fill="#404040" textLength="9.2" lengthAdjust="spacingAndGlyphs" >30</text><text x="402.4" y="484.7" font-size="6.6" fill="#595959" textLength="20.0" lengthAdjust="spacingAndGlyphs" >UNITE 3</text><rect x="434.1" y="392.4" width="17.6" height="81.6" fill="#002060" /><text x="438.3" y="385.2" font-size="9.6" fill="#404040" textLength="9.2" lengthAdjust="spacingAndGlyphs" >34</text><text x="432.9" y="484.7" font-size="6.6" fill="#595959" textLength="20.0" lengthAdjust="spacingAndGlyphs" >UNITE 4</text><rect x="464.6" y="399.6" width="17.6" height="74.4" fill="#002060" /><text x="468.8" y="392.4" font-size="9.6" fill="#404040" textLength="9.2" lengthAdjust="spacingAndGlyphs" >31</text><text x="463.4" y="484.7" font-size="6.6" fill="#595959" textLength="20.0" lengthAdjust="spacingAndGlyphs" >UNITE 5</text><rect x="495.0" y="399.6" width="17.6" height="74.4" fill="#002060" /><text x="499.2" y="392.4" font-size="9.6" fill="#404040" textLength="9.2" lengthAdjust="spacingAndGlyphs" >31</text><text x="493.8" y="484.7" font-size="6.6" fill="#595959" textLength="20.0" lengthAdjust="spacingAndGlyphs" >UNITE 6</text><rect x="525.5" y="387.6" width="17.6" height="86.4" fill="#002060" /><text x="529.7" y="380.4" font-size="9.6" fill="#404040" textLength="9.2" lengthAdjust="spacingAndGlyphs" >36</text><text x="524.3" y="484.7" font-size="6.6" fill="#595959" textLength="20.0" lengthAdjust="spacingAndGlyphs" >UNITE 7</text><rect x="556.0" y="387.6" width="17.6" height="86.4" fill="#002060" /><text x="560.2" y="380.4" font-size="9.6" fill="#404040" textLength="9.2" lengthAdjust="spacingAndGlyphs" >36</text><text x="554.8" y="484.7" font-size="6.6" fill="#595959" textLength="20.0" lengthAdjust="spacingAndGlyphs" >UNITE 8</text><rect x="586.5" y="402.0" width="17.6" height="72.0" fill="#002060" /><text x="590.7" y="394.8" font-size="9.6" fill="#404040" textLength="9.2" lengthAdjust="spacingAndGlyphs" >30</text><text x="585.3" y="484.7" font-size="6.6" fill="#595959" textLength="20.0" lengthAdjust="spacingAndGlyphs" >UNITE 9</text><rect x="617.0" y="368.4" width="17.6" height="105.6" fill="#002060" /><text x="621.2" y="364.5" font-size="9.6" fill="#404040" textLength="9.2" lengthAdjust="spacingAndGlyphs" >44</text><text x="615.8" y="484.7" font-size="6.6" fill="#595959" textLength="20.0" lengthAdjust="spacingAndGlyphs" >UNITE A</text></svg></div>
<div class="panel" id="pie" style="left:659px;top:324px;width:245px;height:182px;border:2px solid #10295c;box-shadow:2px 2px 4px rgba(0,0,0,.32);"><svg class="pg" style="left:-661px;top:-326px" width="1234" height="697" viewBox="0 0 1234 697"><path d="M740.5,415.8 L740.50,334.30 A74.5,81.5 0 0 1 740.50,497.30 Z" fill="#203864" stroke="#fff" stroke-width="1.3" stroke-linejoin="round"/><path d="M740.5,415.8 L740.50,497.30 A74.5,81.5 0 0 1 666.18,421.49 Z" fill="#70ad47" stroke="#fff" stroke-width="1.3" stroke-linejoin="round"/><path d="M740.5,415.8 L666.18,421.49 A74.5,81.5 0 0 1 740.50,334.30 Z" fill="#a5a5a5" stroke="#fff" stroke-width="1.3" stroke-linejoin="round"/><rect x="822.3" y="399.2" width="2.8" height="2.8" fill="#002060" /><text x="828.0" y="403.3" font-size="7.8" fill="#595959" textLength="28.0" lengthAdjust="spacingAndGlyphs" >Incident</text><rect x="822.3" y="414.9" width="2.8" height="2.8" fill="#70ad47" /><text x="828.0" y="419.0" font-size="7.8" fill="#595959" textLength="65.3" lengthAdjust="spacingAndGlyphs" >Accident sans arrêt</text><rect x="822.3" y="431.0" width="2.8" height="2.8" fill="#a5a5a5" /><text x="828.0" y="435.1" font-size="7.8" fill="#595959" textLength="65.3" lengthAdjust="spacingAndGlyphs" >Accident avec arrêt</text><rect x="645" y="467.5" width="72.5" height="12.8" fill="#fbfbfb" stroke="#b8b8b8" stroke-width="0.8" filter="url(#tts)"/><text x="647.6" y="477.3" font-size="8.6" fill="#4d4d4d" textLength="65.6" lengthAdjust="spacingAndGlyphs" >Zone de graphique</text></svg></div>
<div class="panel" id="topact" style="left:289px;top:512px;width:273px;height:171px;border:2px solid #10295c;box-shadow:2px 2px 4px rgba(0,0,0,.32);"><svg class="pg" style="left:-291px;top:-514px" width="1234" height="697" viewBox="0 0 1234 697"><text x="296.6" y="530.6" font-size="13.3" fill="#404040" textLength="200.4" lengthAdjust="spacingAndGlyphs" >Top des Activités avec jours d'arrêts</text><rect x="293.8" y="536.7" width="58.6" height="141.6" fill="url(#gY)" /><rect x="353.4" y="536.7" width="53.6" height="141.6" fill="url(#gB)" /><rect x="407.9" y="536.7" width="100.9" height="71.0" fill="url(#gA)" /><rect x="407.9" y="609.1" width="100.9" height="69.2" fill="url(#gO)" /><rect x="510.0" y="536.7" width="44.8" height="141.6" fill="url(#gG)" /><text x="299.5" y="671.8" font-size="8.6" fill="#3f3f3f" textLength="42.6" lengthAdjust="spacingAndGlyphs" >Soudure, 517</text><text x="364.7" y="660.9" font-size="8.6" fill="#3f3f3f" textLength="30.0" lengthAdjust="spacingAndGlyphs" >travail en</text><text x="358.8" y="671.8" font-size="8.6" fill="#3f3f3f" textLength="41.3" lengthAdjust="spacingAndGlyphs" >hauteur, 469</text><text x="413.4" y="600.9" font-size="8.6" fill="#3f3f3f" textLength="38.2" lengthAdjust="spacingAndGlyphs" >Accueil, 452</text><text x="413.4" y="671.8" font-size="8.6" fill="#3f3f3f" textLength="71.8" lengthAdjust="spacingAndGlyphs" >Conditionnement, 441</text><text x="516.2" y="660.9" font-size="8.6" fill="#3f3f3f" textLength="32.3" lengthAdjust="spacingAndGlyphs" >Nettoyage</text><text x="522.5" y="671.8" font-size="8.6" fill="#3f3f3f" textLength="19.0" lengthAdjust="spacingAndGlyphs" >, 394</text></svg></div>
<div class="panel" id="repartition" style="left:567px;top:512px;width:334px;height:171px;border:2px solid #10295c;box-shadow:2px 2px 4px rgba(0,0,0,.32);"><svg class="pg" style="left:-569px;top:-514px" width="1234" height="697" viewBox="0 0 1234 697"><text x="573.6" y="533.4" font-size="13" fill="#404040" textLength="171.7" lengthAdjust="spacingAndGlyphs" >Repartition par Type de Lésion</text><line x1="572.0" y1="538.6" x2="900.0" y2="538.6" stroke="#ececec" stroke-width="1" /><line x1="583.0" y1="651.0" x2="890.0" y2="651.0" stroke="#e0e0e0" stroke-width="1" /><rect x="596.0" y="569.7" width="12.0" height="80.7" fill="#002060" /><text x="602.0" y="561.5" font-size="10.2" fill="#000" font-weight="bold" text-anchor="middle" >35</text><text x="592.8" y="660.4" font-size="5.6" fill="#474747" textLength="17.8" lengthAdjust="spacingAndGlyphs" >Blessure</text><rect x="634.3" y="562.8" width="12.0" height="87.6" fill="#002060" /><text x="640.3" y="554.6" font-size="10.2" fill="#000" font-weight="bold" text-anchor="middle" >38</text><text x="632.2" y="660.4" font-size="5.6" fill="#474747" textLength="15.6" lengthAdjust="spacingAndGlyphs" >Brûlure</text><rect x="672.7" y="569.7" width="12.0" height="80.7" fill="#002060" /><text x="678.7" y="561.5" font-size="10.2" fill="#000" font-weight="bold" text-anchor="middle" >35</text><text x="660.2" y="660.4" font-size="5.6" fill="#474747" textLength="36.8" lengthAdjust="spacingAndGlyphs" >Choc émotionnel</text><rect x="711.0" y="565.1" width="12.0" height="85.3" fill="#002060" /><text x="717.0" y="556.9" font-size="10.2" fill="#000" font-weight="bold" text-anchor="middle" >37</text><text x="707.9" y="660.4" font-size="5.6" fill="#474747" textLength="18.0" lengthAdjust="spacingAndGlyphs" >Coupure</text><rect x="749.3" y="583.5" width="12.0" height="66.9" fill="#002060" /><text x="755.3" y="575.3" font-size="10.2" fill="#000" font-weight="bold" text-anchor="middle" >29</text><text x="739.0" y="660.4" font-size="5.6" fill="#474747" textLength="32.6" lengthAdjust="spacingAndGlyphs" >Dégradation de</text><text x="744.8" y="666.6" font-size="5.6" fill="#474747" textLength="21.0" lengthAdjust="spacingAndGlyphs" >l'audition</text><rect x="787.6" y="565.1" width="12.0" height="85.3" fill="#002060" /><text x="793.6" y="556.9" font-size="10.2" fill="#000" font-weight="bold" text-anchor="middle" >37</text><text x="782.0" y="660.4" font-size="5.6" fill="#474747" textLength="23.8" lengthAdjust="spacingAndGlyphs" >Dépression</text><rect x="826.0" y="558.2" width="12.0" height="92.2" fill="#002060" /><text x="832.0" y="550.0" font-size="10.2" fill="#000" font-weight="bold" text-anchor="middle" >40</text><text x="823.7" y="660.4" font-size="5.6" fill="#474747" textLength="16.5" lengthAdjust="spacingAndGlyphs" >Douleur</text><text x="820.2" y="666.6" font-size="5.6" fill="#474747" textLength="23.5" lengthAdjust="spacingAndGlyphs" >musculaire</text><rect x="864.3" y="565.1" width="12.0" height="85.3" fill="#002060" /><text x="870.3" y="556.9" font-size="10.2" fill="#000" font-weight="bold" text-anchor="middle" >37</text><text x="858.8" y="660.4" font-size="5.6" fill="#474747" textLength="23.0" lengthAdjust="spacingAndGlyphs" >Magasinier</text></svg></div>
</body></html>
